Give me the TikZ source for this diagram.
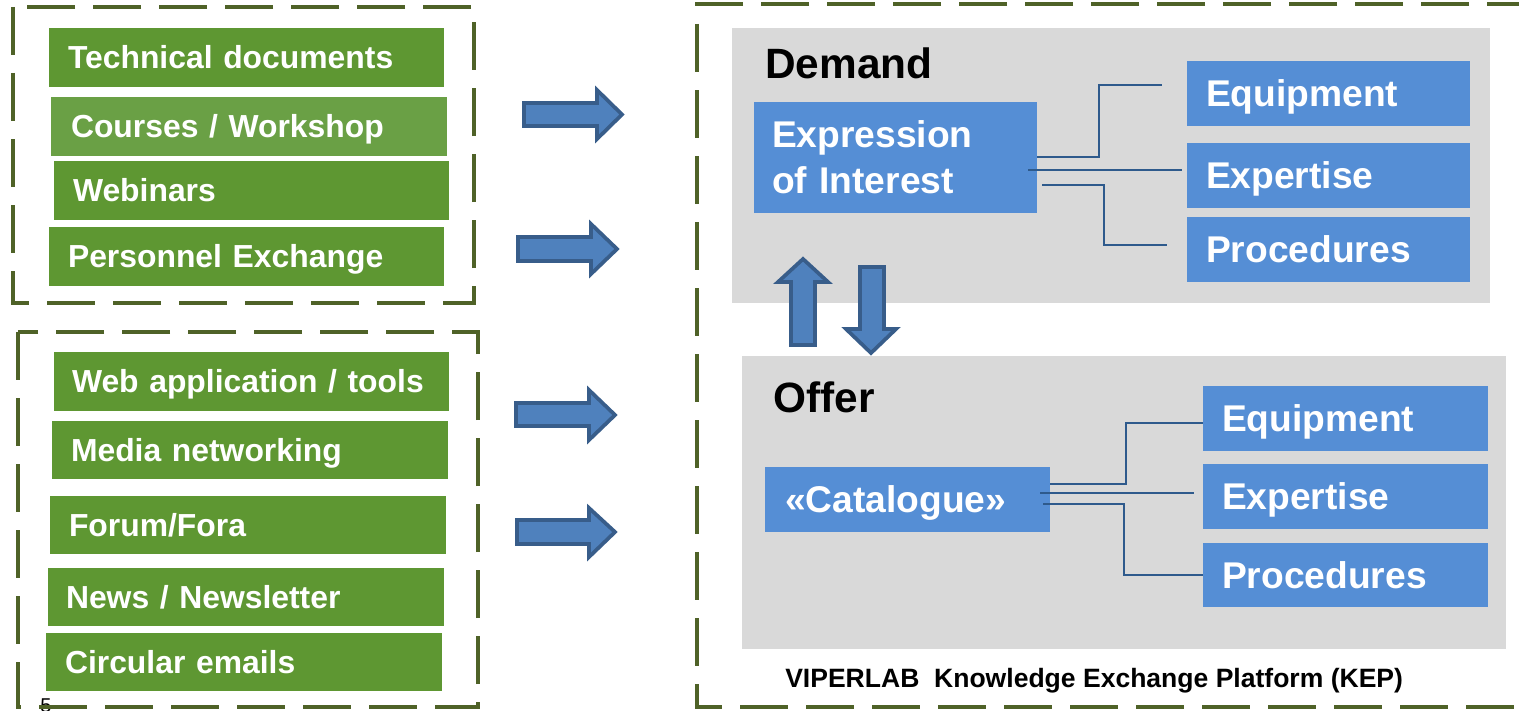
\documentclass[tikz,border=0pt]{standalone}
\usepackage{fontspec}
\setmainfont{Liberation Sans}
\usetikzlibrary{calc}
\definecolor{gfill}{HTML}{5E9732}
\definecolor{gfillb}{HTML}{6AA045}
\definecolor{olivedash}{HTML}{4F6228}
\definecolor{bfill}{HTML}{558ED5}
\definecolor{grayfill}{HTML}{D9D9D9}
\definecolor{arrfill}{HTML}{4F81BD}
\definecolor{arrline}{HTML}{385D8A}
\definecolor{connc}{HTML}{2E5A8C}
\newcommand\boxnode[8]{%
 \pgfmathsetmacro\bxw{(#5-#3)*0.75}%
 \pgfmathsetmacro\bxh{(#6-#4)*0.75}%
 \pgfmathsetmacro\bxt{(#5-#3-2*#7)*0.75}%
 \pgfmathsetmacro\bxi{#7*0.75}%
 \node[#1, minimum width=\bxw pt, minimum height=\bxh pt, text width=\bxt pt, inner xsep=\bxi pt] (#2) at ({(#3+#5)/2},{(#4+#6)/2}) {#8};}
\begin{document}
\begin{tikzpicture}[x=0.75pt,y=-0.75pt,
  gb/.style={fill=gfill, text=white, font={\fontsize{23.9pt}{28pt}\selectfont\bfseries}, align=left, inner ysep=0pt, text height=17.1pt, text depth=0pt},
  bb/.style={fill=bfill, text=white, font={\fontsize{27.9pt}{34.5pt}\selectfont\bfseries}, align=left, inner ysep=0pt, text height=20pt, text depth=0pt},
  graybox/.style={fill=grayfill, inner sep=0pt},
  dashbox/.style={draw=olivedash, line width=3.5pt, dash pattern=on 36pt off 13.5pt},
  conn/.style={draw=connc, line width=0.9pt},
  fatarrow/.style={fill=arrfill, draw=arrline, line width=2.8pt, line join=miter},
  title/.style={font={\fontsize{31.8pt}{36pt}\selectfont\bfseries}, text=black, inner sep=0pt, anchor=base west}]
\useasboundingbox (0,0) rectangle (1519,710);
\fill[white] (0,0) rectangle (1519,710);

% slide number
\node[font={\fontsize{15pt}{18pt}\selectfont}, inner sep=0pt, anchor=base west] (slidenum) at (40,712) {5};

% left dashed groups
\draw[dashbox] (13,7) rectangle (474,303);
\draw[dashbox] (18,332) rectangle (478,707);

\boxnode{gb}{td}{49}{28}{444}{87}{19}{Technical documents}
\boxnode{gb,fill=gfillb}{cw}{51}{97}{447}{156}{20}{Courses / Workshop}
\boxnode{gb}{wb}{54}{161}{449}{220}{19}{Webinars}
\boxnode{gb}{pe}{49}{227}{444}{286}{19}{Personnel Exchange}

\boxnode{gb}{wa}{54}{352}{449}{411}{18}{Web application / tools}
\boxnode{gb}{mn}{52}{421}{448}{479}{19}{Media networking}
\boxnode{gb}{ff}{50}{496}{446}{554}{19}{Forum/Fora}
\boxnode{gb}{nn}{48}{568}{444}{626}{18}{News / Newsletter}
\boxnode{gb}{ce}{46}{633}{442}{691}{19}{Circular emails}

% right arrows
\draw[fatarrow] (524,103) -- (597,103) -- (597,90) -- (622,114.5) -- (597,139) -- (597,126) -- (524,126) -- cycle;
\draw[fatarrow] (518,237) -- (591,237) -- (591,224) -- (617,249) -- (591,274) -- (591,261) -- (518,261) -- cycle;
\draw[fatarrow] (516,403) -- (589,403) -- (589,390) -- (615,415) -- (589,440) -- (589,426) -- (516,426) -- cycle;
\draw[fatarrow] (517,520) -- (589,520) -- (589,508) -- (615,532) -- (589,557) -- (589,544) -- (517,544) -- cycle;

% right dashed frame
\draw[dashbox] (1535,4) -- (697,4) -- (697,707) -- (1535,707);

% gray panels
\boxnode{graybox}{demand}{732}{28}{1490}{303}{0}{}
\boxnode{graybox}{offer}{742}{356}{1506}{649}{0}{}

\node[title] (demandlbl) at (765,79) {Demand};
\node[title] (offerlbl) at (773,412) {Offer};

% demand boxes
\pgfmathsetmacro\bxw{(1037-754)*0.75}
\node[bb, minimum width=\bxw pt, minimum height=83.25pt, text width={(1037-754-36)*0.75pt}, inner xsep=13.5pt, text height=20pt, text depth=34.5pt] (eoi) at ({(754+1037)/2},{(102+213)/2}) {Expression\\of Interest};
\boxnode{bb}{deq}{1187}{61}{1470}{126}{19}{Equipment}
\boxnode{bb}{dex}{1187}{143}{1470}{208}{19}{Expertise}
\boxnode{bb}{dpr}{1187}{217}{1470}{282}{19}{Procedures}

% offer boxes
\boxnode{bb}{cat}{765}{467}{1050}{532}{20}{«Catalogue»}
\boxnode{bb}{oeq}{1203}{386}{1488}{451}{19}{Equipment}
\boxnode{bb}{oex}{1203}{464}{1488}{529}{19}{Expertise}
\boxnode{bb}{opr}{1203}{543}{1488}{607}{19}{Procedures}

% connectors demand
\coordinate (d1e) at (1162,85);
\coordinate (d2e) at (1182,170);
\coordinate (d3e) at (1167,245);
\draw[conn] (eoi.east |- 0,157) -| (1099,85) -- (d1e);
\draw[conn] ($(eoi.east |- 0,170)+(-9,0)$) -- (d2e);
\draw[conn] ($(eoi.east |- 0,185)+(5,0)$) -| (1104,245) -- (d3e);

% connectors offer
\coordinate (o2e) at (1194,493);
\draw[conn] (cat.east |- 0,484) -| (1126,423) -- (oeq.west |- 0,423);
\draw[conn] ($(cat.east |- 0,493)+(-10,0)$) -- (o2e);
\draw[conn] ($(cat.east |- 0,504)+(-7,0)$) -| (1124,575) -- (opr.west |- 0,575);

% up / down arrows
\draw[fatarrow] (791,345) -- (791,282) -- (778,282) -- (803,259) -- (828,282) -- (815,282) -- (815,345) -- cycle;
\draw[fatarrow] (860,267) -- (884,267) -- (884,329) -- (896,329) -- (871,353) -- (846,329) -- (860,329) -- cycle;

\node[font={\fontsize{19.9pt}{23pt}\selectfont\bfseries}, inner sep=0pt, anchor=base west] (kep) at (785,687) {VIPERLAB\ \ Knowledge Exchange Platform (KEP)};
\end{tikzpicture}
\end{document}
